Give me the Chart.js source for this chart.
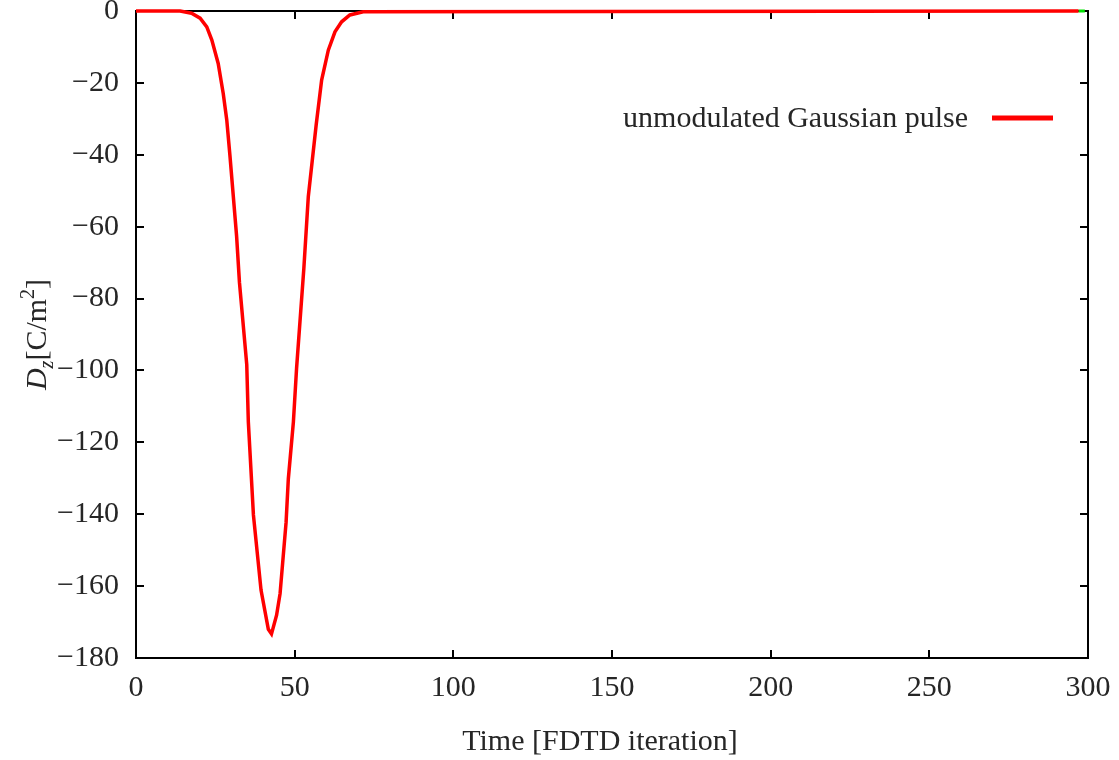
<!DOCTYPE html>
<html>
<head>
<meta charset="utf-8">
<script src="https://cdn.jsdelivr.net/npm/chart.js@4.4.0/dist/chart.umd.min.js"></script>
<style>
  html, body { margin: 0; background: #fff; }
  #wrap { width: 1119px; height: 760px; position: relative; }
</style>
</head>
<body>
<div id="wrap"><canvas id="pulseChart"></canvas></div>
<script>
// values
const pulseTime = [0, 13.9, 17.5, 20.2, 22.3, 23.9, 25.9, 27.5, 28.6, 29.6, 31.7, 32.6, 34.9, 35.4,
  37.0, 39.4, 41.7, 42.7, 44.3, 45.4, 47.3, 48.0, 49.6, 50.6, 52.9, 54.3, 56.8, 58.5, 60.6,
  62.7, 64.8, 67.4, 71.6, 297];
const pulseDz = [0, 0, -0.6, -2.0, -4.4, -8.1, -14.6, -23, -30.3, -40.2, -62.6, -75.5, -98.4, -114.3,
  -140.2, -161.1, -172.0, -173.3, -168.1, -162.1, -142.2, -130.2, -114.3, -99.4, -71.5, -51.6, -31.5, -19.2, -10.9,
  -5.8, -3.0, -1.1, -0.2, 0];
// a second trace that only shows at the very end of the axis
const otherTime = [297, 299];
const otherDz = [0, 0];

const xTicks = [0, 50, 100, 150, 200, 250, 300];
const yTicks = [0, -20, -40, -60, -80, -100, -120, -140, -160, -180];

const SERIF = "'Liberation Serif', 'Times New Roman', serif";
const TEXT = "#262626";

const toPts = (xs, ys) => xs.map((x, i) => ({ x, y: ys[i] }));

// frame + inward ticks on all four sides (gnuplot look)
const framePlugin = {
  id: "frame",
  beforeDatasetsDraw(chart) {
    const { ctx, chartArea: a, scales } = chart;
    const len = 8;
    ctx.save();
    ctx.strokeStyle = "#000";
    ctx.lineWidth = 2;
    ctx.beginPath();
    xTicks.forEach(v => {
      const px = Math.round(scales.x.getPixelForValue(v));
      ctx.moveTo(px, a.bottom); ctx.lineTo(px, a.bottom - len);
      ctx.moveTo(px, a.top); ctx.lineTo(px, a.top + len);
    });
    yTicks.forEach(v => {
      const py = Math.round(scales.y.getPixelForValue(v));
      ctx.moveTo(a.left, py); ctx.lineTo(a.left + len, py);
      ctx.moveTo(a.right, py); ctx.lineTo(a.right - len, py);
    });
    ctx.stroke();
    ctx.strokeRect(a.left, a.top, a.right - a.left, a.bottom - a.top);
    ctx.restore();
  }
};

// axis titles: D_z[C/m^2] with italic D and subscript z, and the time label
const titlesPlugin = {
  id: "titles",
  afterDraw(chart) {
    const { ctx, chartArea: a } = chart;
    const big = "30px " + SERIF, small = "20px " + SERIF;
    const itBig = "italic " + big, itSmall = "italic " + small;
    const parts = [
      { t: "D", f: itBig, dy: 0 },
      { t: "z", f: itSmall, dy: 7 },
      { t: "[C/m", f: big, dy: 0 },
      { t: "2", f: small, dy: -12 },
      { t: "]", f: big, dy: 0 }
    ];
    ctx.save();
    ctx.fillStyle = TEXT;
    ctx.textBaseline = "alphabetic";
    let total = 0;
    parts.forEach(p => { ctx.font = p.f; p.w = ctx.measureText(p.t).width; total += p.w; });
    ctx.save();
    ctx.translate(46, (a.top + a.bottom) / 2);
    ctx.rotate(-Math.PI / 2);
    let x = -total / 2;
    parts.forEach(p => {
      ctx.font = p.f;
      ctx.fillText(p.t, x, p.dy);
      x += p.w;
    });
    ctx.restore();

    ctx.font = big;
    ctx.textAlign = "center";
    ctx.fillText("Time [FDTD iteration]", 600, 750);
    ctx.restore();
  }
};

// legend inside the plot, top right
const legendPlugin = {
  id: "insideLegend",
  afterDraw(chart) {
    const { ctx, chartArea: a } = chart;
    const ds = chart.data.datasets[0];
    const y = a.top + 107;
    const lineEnd = a.right - 35;
    const lineStart = lineEnd - 61;
    ctx.save();
    ctx.font = "30px " + SERIF;
    ctx.fillStyle = TEXT;
    ctx.textAlign = "right";
    ctx.textBaseline = "middle";
    ctx.fillText(ds.label, lineStart - 24, y + 1);
    ctx.strokeStyle = ds.borderColor;
    ctx.lineWidth = 5;
    ctx.beginPath();
    ctx.moveTo(lineStart, y);
    ctx.lineTo(lineEnd, y);
    ctx.stroke();
    ctx.restore();
  }
};

new Chart(document.getElementById("pulseChart"), {
  type: "line",
  data: {
    datasets: [
      {
        label: "unmodulated Gaussian pulse",
        data: toPts(pulseTime, pulseDz),
        borderColor: "#ff0000",
        borderWidth: 3.5,
        pointRadius: 0,
        tension: 0,
        clip: false
      },
      {
        label: "other",
        data: toPts(otherTime, otherDz),
        borderColor: "#00e000",
        borderWidth: 3,
        pointRadius: 0,
        clip: false
      }
    ]
  },
  options: {
    responsive: true,
    maintainAspectRatio: false,
    animation: false,
    layout: { padding: { top: 11, right: 31, left: 0, bottom: 0 } },
    plugins: { legend: { display: false }, tooltip: { enabled: false } },
    scales: {
      x: {
        type: "linear",
        min: 0, max: 300,
        afterBuildTicks: s => { s.ticks = xTicks.map(v => ({ value: v })); },
        afterFit: s => { s.height = 102; s.paddingLeft = 0; s.paddingRight = 0; },
        grid: { display: false, drawTicks: false },
        border: { display: false },
        ticks: {
          padding: 12,
          color: TEXT,
          font: { family: SERIF, size: 30 }
        }
      },
      y: {
        type: "linear",
        min: -180, max: 0,
        afterBuildTicks: s => { s.ticks = yTicks.map(v => ({ value: v })); },
        afterFit: s => { s.width = 136; s.paddingTop = 0; s.paddingBottom = 0; },
        grid: { display: false, drawTicks: false },
        border: { display: false },
        ticks: {
          padding: 17,
          color: TEXT,
          font: { family: SERIF, size: 30 },
          callback: v => String(v).replace("-", "\u2212")
        }
      }
    }
  },
  plugins: [framePlugin, titlesPlugin, legendPlugin]
});
</script>
</body>
</html>
